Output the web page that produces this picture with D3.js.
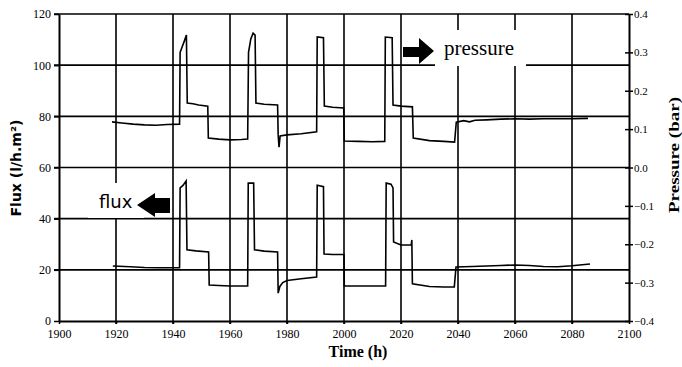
<!DOCTYPE html>
<html>
<head>
<meta charset="utf-8">
<script src="https://d3js.org/d3.v7.min.js"></script>
<style>
  body { margin: 0; background: #fff; }
</style>
</head>
<body>
<script>
// time axis ticks and value ticks
const timeTicks = [1900, 1920, 1940, 1960, 1980, 2000, 2020, 2040, 2060, 2080, 2100];
const fluxTicks = [0, 20, 40, 60, 80, 100, 120];
const pressureTicks = [-0.4, -0.3, -0.2, -0.1, 0.0, 0.1, 0.2, 0.3, 0.4];

// pressure trace (right axis, bar)
const pressureTime = [1918.6, 1922, 1926, 1930, 1934, 1938, 1942.3, 1942.5, 1943.0, 1944.0, 1944.7,
  1945.0, 1947, 1949, 1952.2, 1952.4, 1956, 1960, 1964, 1966.2, 1966.5, 1967.3, 1968.1, 1968.8,
  1969.1, 1972, 1976.7, 1976.9, 1977.2, 1977.6, 1980, 1985, 1990.4, 1990.6, 1992.8,
  1993.1, 1996, 1999.9, 2000.1, 2005, 2010, 2014.3, 2014.5, 2016.9,
  2017.2, 2020, 2024.0, 2024.3, 2030, 2035, 2038.8, 2039.4, 2042, 2044, 2046, 2050,
  2055, 2060, 2065, 2070, 2075, 2080, 2085.6];
const pressure = [0.119, 0.116, 0.113, 0.111, 0.110, 0.112, 0.113, 0.300, 0.310, 0.330, 0.345,
  0.168, 0.166, 0.163, 0.160, 0.077, 0.074, 0.072, 0.073, 0.074, 0.300, 0.335, 0.350, 0.345,
  0.168, 0.165, 0.163, 0.085, 0.053, 0.082, 0.085, 0.088, 0.093, 0.340, 0.338,
  0.160, 0.157, 0.155, 0.069, 0.068, 0.067, 0.068, 0.340, 0.338,
  0.163, 0.160, 0.158, 0.077, 0.070, 0.068, 0.066, 0.118, 0.122, 0.119, 0.123, 0.124,
  0.126, 0.127, 0.126, 0.127, 0.127, 0.127, 0.128];

// flux trace (left axis, l/h.m2)
const fluxTime = [1918.9, 1925, 1930, 1935, 1942.3, 1942.5, 1943.5, 1944.6,
  1944.9, 1948, 1952.5, 1952.7, 1956, 1960, 1966.2, 1966.4, 1968.3,
  1968.6, 1972, 1976.7, 1976.9, 1977.5, 1978.5, 1980, 1985, 1990.4, 1990.6, 1992.8,
  1993.0, 1996, 2000.0, 2000.1, 2005, 2010, 2014.6, 2014.8, 2016.5, 2017.2,
  2017.4, 2020, 2023.6, 2023.8, 2024.0, 2030, 2035, 2038.7, 2039.3, 2045, 2050,
  2055, 2060, 2065, 2070, 2075, 2080, 2086.3];
const flux = [21.5, 21.2, 20.9, 20.8, 20.8, 52.0, 53.0, 54.7,
  27.8, 27.4, 27.0, 14.1, 13.9, 13.7, 13.7, 53.9, 53.9,
  27.8, 27.3, 27.0, 10.9, 13.5, 15.0, 15.8, 16.5, 17.2, 53.1, 52.5,
  26.2, 26.0, 26.0, 13.7, 13.7, 13.7, 13.7, 53.9, 53.5, 52.0,
  30.9, 29.7, 29.7, 31.7, 14.5, 13.5, 13.3, 13.3, 21.1, 21.3, 21.5,
  21.7, 21.9, 21.7, 21.3, 21.2, 21.6, 22.3];

const W = 682, H = 367;
const mLeft = 59, mRight = 629, mTop = 14, mBottom = 321;

const svg = d3.select("body").append("svg")
  .attr("width", W).attr("height", H);

const x = d3.scaleLinear().domain([1900, 2100]).range([mLeft, mRight]);
const yL = d3.scaleLinear().domain([0, 120]).range([mBottom, mTop]);
const yR = d3.scaleLinear().domain([-0.4, 0.4]).range([mBottom, mTop]);

const serif = "'Liberation Serif', 'Times New Roman', serif";
const sans = "'DejaVu Sans', sans-serif";

// grid
svg.append("g").selectAll("line").data(fluxTicks.slice(1)).join("line")
  .attr("x1", mLeft - 5).attr("x2", mRight)
  .attr("y1", d => yL(d)).attr("y2", d => yL(d))
  .attr("stroke", "#000").attr("stroke-width", 1.6);
svg.append("g").selectAll("line").data(timeTicks.slice(1, -1)).join("line")
  .attr("x1", d => x(d)).attr("x2", d => x(d))
  .attr("y1", mTop).attr("y2", mBottom + 3)
  .attr("stroke", "#000").attr("stroke-width", 1.6);

// white boxes behind the labels (they cut the grid)
svg.append("rect").attr("x", 88).attr("y", 183).attr("width", 56).attr("height", 35).attr("fill", "#fff");
svg.append("rect").attr("x", 435).attr("y", 30).attr("width", 91).attr("height", 36).attr("fill", "#fff");

// arrows
svg.append("path")
  .attr("d", "M403,47 L419,47 L419,38 L434,51 L419,64 L419,57 L403,57 Z")
  .attr("fill", "#000");
svg.append("path")
  .attr("d", "M170,198 L155,198 L155,193 L137,205 L155,217 L155,213 L170,213 Z")
  .attr("fill", "#000");

svg.append("text").attr("x", 99).attr("y", 208)
  .attr("font-family", sans).attr("font-size", 18).text("flux");
svg.append("text").attr("x", 444).attr("y", 55)
  .attr("font-family", serif).attr("font-size", 21).text("pressure");

// data
const lineP = d3.line().x((d, i) => x(pressureTime[i])).y(d => yR(d));
const lineF = d3.line().x((d, i) => x(fluxTime[i])).y(d => yL(d));
svg.append("path").attr("d", lineP(pressure))
  .attr("fill", "none").attr("stroke", "#000").attr("stroke-width", 1.6);
svg.append("path").attr("d", lineF(flux))
  .attr("fill", "none").attr("stroke", "#000").attr("stroke-width", 1.6);

// axes
const axisB = d3.axisBottom(x).tickValues(timeTicks).tickSize(3).tickSizeOuter(0).tickFormat(d3.format("d"));
const gB = svg.append("g").attr("transform", `translate(0,${mBottom})`).call(axisB);

const axisL = d3.axisLeft(yL).tickValues(fluxTicks).tickSize(5).tickSizeOuter(0).tickFormat(d3.format("d"));
const gL = svg.append("g").attr("transform", `translate(${mLeft},0)`).call(axisL);

const axisR = d3.axisRight(yR).tickValues(pressureTicks).tickSize(4).tickSizeOuter(0).tickFormat(d3.format(".1f"));
const gR = svg.append("g").attr("transform", `translate(${mRight},0)`).call(axisR);
gR.selectAll(".tick line").attr("x1", -4);

[gB, gL, gR].forEach(g => {
  g.select(".domain").attr("stroke-width", 2);
  g.selectAll("text").attr("font-family", serif).attr("font-size", 12).attr("fill", "#000");
  g.selectAll(".tick line").attr("stroke-width", 1.5);
});
gR.selectAll("text").attr("font-size", 11).attr("x", 5);
gB.selectAll("text").attr("y", 8);

// axis titles
svg.append("text").attr("x", 358).attr("y", 357).attr("text-anchor", "middle")
  .attr("font-family", serif).attr("font-weight", "bold").attr("font-size", 16).text("Time (h)");
svg.append("text").attr("transform", "translate(16,168) rotate(-90)")
  .attr("text-anchor", "middle").attr("dy", "0.35em")
  .attr("font-family", sans).attr("font-weight", "bold").attr("font-size", 14)
  .text("Flux (l/h.m²)");
svg.append("text").attr("transform", "translate(674,155) rotate(-90)")
  .attr("text-anchor", "middle").attr("dy", "0.35em")
  .attr("font-family", serif).attr("font-weight", "bold").attr("font-size", 15)
  .attr("textLength", 116).attr("lengthAdjust", "spacingAndGlyphs")
  .text("Pressure (bar)");
</script>
</body>
</html>
